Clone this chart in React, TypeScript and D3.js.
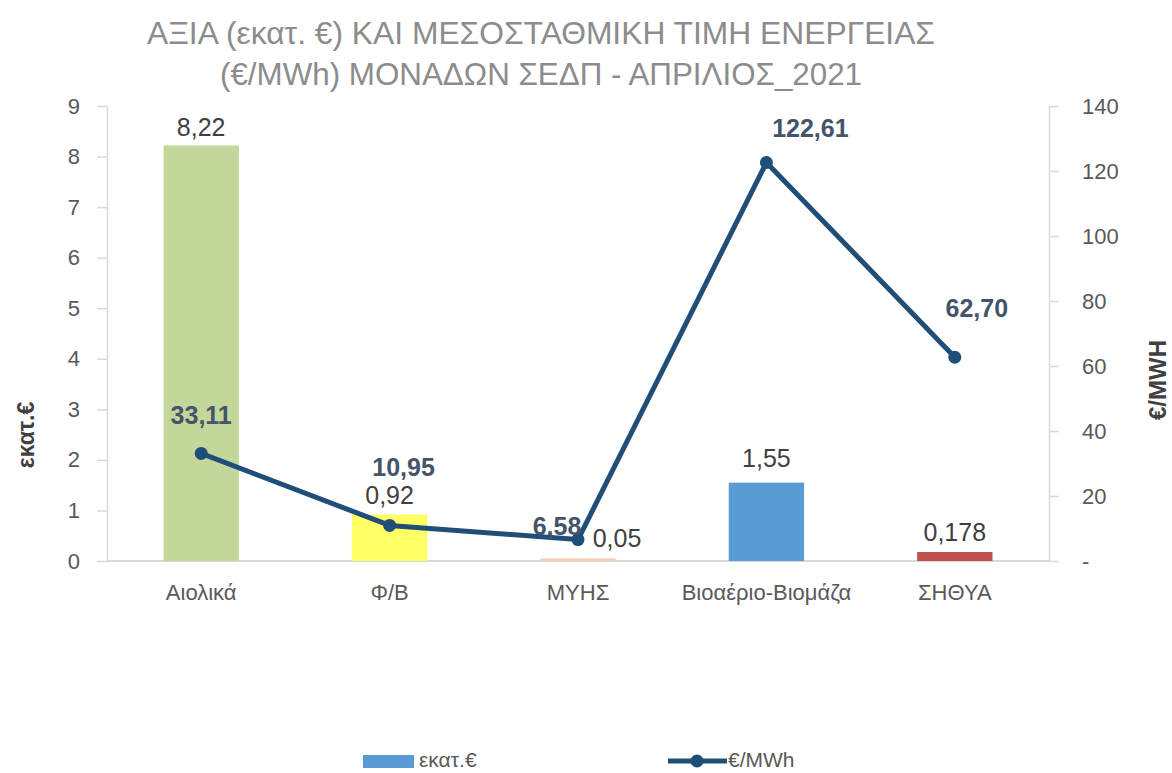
import { useEffect, useRef } from "react";
import * as d3 from "d3";

// ── Data ──────────────────────────────────────────────────────────────────────
const categories = ["Αιολικά", "Φ/Β", "ΜΥΗΣ", "Βιοαέριο-Βιομάζα", "ΣΗΘΥΑ"];
const valueMEur = [8.22, 0.92, 0.05, 1.55, 0.178];
const valueLabels = ["8,22", "0,92", "0,05", "1,55", "0,178"];
const priceEurMWh = [33.11, 10.95, 6.58, 122.61, 62.7];
const priceLabels = ["33,11", "10,95", "6,58", "122,61", "62,70"];
const leftTicks = [0, 1, 2, 3, 4, 5, 6, 7, 8, 9];
const rightTicks = [0, 20, 40, 60, 80, 100, 120, 140];
const titleLines = [
  "ΑΞΙΑ (εκατ. €) ΚΑΙ ΜΕΣΟΣΤΑΘΜΙΚΗ ΤΙΜΗ ΕΝΕΡΓΕΙΑΣ",
  "(€/MWh) ΜΟΝΑΔΩΝ ΣΕΔΠ - ΑΠΡΙΛΙΟΣ_2021",
];

// styling
const barColors = ["#c4d79b", "#ffff66", "#f8cbad", "#5b9bd5", "#c0504d"];
const LINE = "#1f4e79";
// label nudges (px) relative to the default position
const barLabelNudge = [[0, 2], [0, 1], [39, 0], [0, -5], [0, 0]];
const lineLabelNudge = [[0, -38], [14, -58], [-21, -14], [44, -35], [22, -49]];

const W = 1172;
const H = 773;
const FONT = "'Liberation Sans', Arial, sans-serif";

export default function App() {
  const svgRef = useRef<SVGSVGElement>(null);

  useEffect(() => {
    if (!svgRef.current) return;
    const svg = d3.select(svgRef.current);
    svg.selectAll("*").remove();

    const left = 107, right = 1049, top = 106, bottom = 561;

    const x = d3.scaleBand<string>().domain(categories).range([left, right])
      .paddingInner(0.6).paddingOuter(0.3);
    const yL = d3.scaleLinear().domain([0, 9]).range([bottom, top]);
    const yR = d3.scaleLinear().domain([0, 140]).range([bottom, top]);
    const cx = (c: string) => (x(c) ?? 0) + x.bandwidth() / 2;

    // ── Title ────────────────────────────────────────────────────────────────
    const titleW = [788, 642];
    titleLines.forEach((t, i) => {
      svg.append("text")
        .attr("x", 541).attr("y", 44 + i * 41)
        .attr("text-anchor", "middle")
        .attr("font-family", FONT).attr("font-size", 32)
        .attr("fill", "#8c8c8c")
        .attr("textLength", titleW[i]).attr("lengthAdjust", "spacingAndGlyphs")
        .text(t);
    });

    // ── Axes ─────────────────────────────────────────────────────────────────
    const styleAxis = (ag: d3.Selection<SVGGElement, unknown, null, undefined>) => {
      ag.select(".domain").attr("stroke", "#d9d9d9").attr("stroke-width", 1.5);
      ag.selectAll(".tick line").attr("stroke", "#d9d9d9").attr("stroke-width", 1.5);
      ag.selectAll(".tick text").attr("fill", "#595959").attr("font-size", 22)
        .attr("font-family", FONT);
    };

    svg.append("g")
      .attr("transform", `translate(${left},0)`)
      .call(d3.axisLeft(yL).tickValues(leftTicks).tickSize(10).tickSizeOuter(0).tickPadding(17))
      .call(styleAxis);

    svg.append("g")
      .attr("transform", `translate(${right},0)`)
      .call(
        d3.axisRight(yR).tickValues(rightTicks).tickSize(10).tickSizeOuter(0).tickPadding(23)
          .tickFormat((v) => (Number(v) === 0 ? "-" : String(v)))
      )
      .call(styleAxis);

    svg.append("line")
      .attr("x1", left).attr("x2", right).attr("y1", bottom).attr("y2", bottom)
      .attr("stroke", "#d9d9d9").attr("stroke-width", 2);

    categories.forEach((c) => {
      svg.append("text")
        .attr("x", cx(c)).attr("y", 600)
        .attr("text-anchor", "middle")
        .attr("font-family", FONT).attr("font-size", 22)
        .attr("fill", "#595959")
        .text(c);
    });

    // axis titles
    svg.append("text")
      .attr("transform", "translate(34,435) rotate(-90)")
      .attr("text-anchor", "middle")
      .attr("font-family", FONT).attr("font-size", 23).attr("font-weight", "bold")
      .attr("fill", "#404040")
      .text("εκατ.€");

    svg.append("text")
      .attr("transform", "translate(1166,380) rotate(-90)")
      .attr("text-anchor", "middle")
      .attr("font-family", FONT).attr("font-size", 24).attr("font-weight", "bold")
      .attr("fill", "#404040")
      .text("€/MWH");

    // ── Bars ─────────────────────────────────────────────────────────────────
    categories.forEach((c, i) => {
      svg.append("rect")
        .attr("x", x(c) ?? 0).attr("width", x.bandwidth())
        .attr("y", yL(valueMEur[i])).attr("height", bottom - yL(valueMEur[i]))
        .attr("fill", barColors[i]);
    });

    categories.forEach((c, i) => {
      const [dx, dy] = barLabelNudge[i];
      svg.append("text")
        .attr("x", cx(c) + dx).attr("y", yL(valueMEur[i]) - 11 + dy)
        .attr("text-anchor", "middle")
        .attr("font-family", FONT).attr("font-size", 25)
        .attr("fill", "#404040")
        .text(valueLabels[i]);
    });

    // ── Line ─────────────────────────────────────────────────────────────────
    const line = d3.line<number>()
      .x((_, i) => cx(categories[i]))
      .y((d) => yR(d));

    svg.append("path").datum(priceEurMWh)
      .attr("fill", "none")
      .attr("stroke", LINE).attr("stroke-width", 5)
      .attr("stroke-linejoin", "round")
      .attr("d", line);

    priceEurMWh.forEach((v, i) => {
      svg.append("circle")
        .attr("cx", cx(categories[i])).attr("cy", yR(v)).attr("r", 6.5)
        .attr("fill", LINE);
    });

    priceEurMWh.forEach((v, i) => {
      const [dx, dy] = lineLabelNudge[i];
      svg.append("text")
        .attr("x", cx(categories[i]) + dx).attr("y", yR(v) + dy + 9)
        .attr("text-anchor", "middle")
        .attr("font-family", FONT).attr("font-size", 25).attr("font-weight", "bold")
        .attr("fill", "#44546a")
        .text(priceLabels[i]);
    });

    // ── Legend ───────────────────────────────────────────────────────────────
    svg.append("rect")
      .attr("x", 363).attr("y", 755).attr("width", 51).attr("height", 13)
      .attr("fill", "#5b9bd5");
    svg.append("text")
      .attr("x", 419).attr("y", 767)
      .attr("font-family", FONT).attr("font-size", 21).attr("fill", "#595959")
      .text("εκατ.€");

    svg.append("line")
      .attr("x1", 668).attr("x2", 727).attr("y1", 761).attr("y2", 761)
      .attr("stroke", LINE).attr("stroke-width", 5);
    svg.append("circle")
      .attr("cx", 697).attr("cy", 761).attr("r", 6.5).attr("fill", LINE);
    svg.append("text")
      .attr("x", 728).attr("y", 767)
      .attr("font-family", FONT).attr("font-size", 21).attr("fill", "#595959")
      .text("€/MWh");
  }, []);

  return (
    <svg
      ref={svgRef}
      width={W}
      height={H}
      style={{ position: "absolute", left: 0, top: 0, background: "#fff" }}
    />
  );
}
